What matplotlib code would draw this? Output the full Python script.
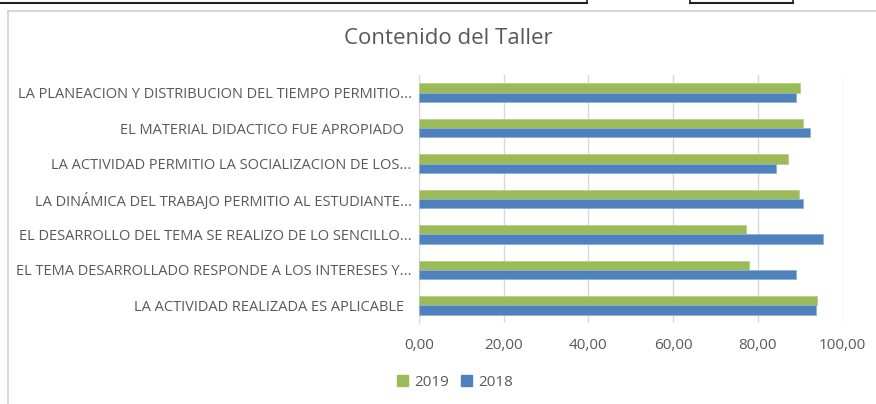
import matplotlib
matplotlib.use("Agg")
import matplotlib.pyplot as plt
from matplotlib.lines import Line2D
from matplotlib.patches import Rectangle
import numpy as np

plt.rcParams['font.family'] = ['Open Sans', 'DejaVu Sans']

categories = [
    "LA ACTIVIDAD REALIZADA ES APLICABLE\u00a0\u00a0",
    "EL TEMA DESARROLLADO RESPONDE A LOS INTERESES Y...",
    "EL DESARROLLO DEL TEMA SE REALIZO DE LO SENCILLO...",
    "LA DINÁMICA DEL TRABAJO PERMITIO AL ESTUDIANTE...",
    "LA ACTIVIDAD PERMITIO LA SOCIALIZACION DE LOS...",
    "EL MATERIAL DIDACTICO FUE APROPIADO\u00a0\u00a0",
    "LA PLANEACION Y DISTRIBUCION DEL TIEMPO PERMITIO...",
]
values_2019 = [94.0, 78.0, 77.2, 89.6, 87.0, 90.6, 90.0]
values_2018 = [93.8, 89.1, 95.4, 90.6, 84.3, 92.3, 89.1]
xticks = [0, 20, 40, 60, 80, 100]
xtick_labels = ["0,00", "20,00", "40,00", "60,00", "80,00", "100,00"]

green = "#9BBB59"
blue = "#4F81BD"
text_color = "#595959"

fig = plt.figure(figsize=(8.76, 4.04), dpi=100)
ax = fig.add_axes([418.7 / 876, 1 - 323 / 404, (842.7 - 418.7) / 876, (323 - 75) / 404])

y = np.arange(len(categories))
h = 0.263
ax.barh(y + h / 2, values_2019, height=h, color=green, edgecolor="#b5cf85", linewidth=0.6, label="2019", zorder=3)
ax.barh(y - h / 2, values_2018, height=h, color=blue, edgecolor="#8fb0d8", linewidth=0.6, label="2018", zorder=3)

ax.set_xlim(0, 100)
ax.set_ylim(-0.5, len(categories) - 0.5)
ax.set_xticks(xticks)
ax.set_xticklabels(xtick_labels, fontsize=11, color=text_color)
ax.set_yticks(y)
ax.set_yticklabels(categories, fontsize=10.5, color=text_color)
ax.tick_params(axis="both", length=0)
ax.tick_params(axis="x", pad=11)
ax.tick_params(axis="y", pad=5)
ax.grid(axis="x", color="#d9d9d9", linewidth=1, zorder=0)
for s in ["top", "right", "bottom"]:
    ax.spines[s].set_visible(False)
ax.spines["left"].set_color("#d9d9d9")
ax.spines["left"].set_zorder(1)

fig.text(448 / 876, 1 - 38 / 404, "Contenido del Taller", ha="center", va="center",
         fontsize=16, color=text_color)

handles = [Rectangle((0, 0), 1, 1, color=green), Rectangle((0, 0), 1, 1, color=blue)]
fig.legend(handles, ["2019", "2018"], loc="center", bbox_to_anchor=(455 / 876, 1 - 382 / 404),
           ncol=2, frameon=False, fontsize=11, handlelength=0.7, handleheight=0.7,
           handletextpad=0.4, columnspacing=0.8, labelcolor=text_color)

# chart border and spreadsheet lines
fig.add_artist(Line2D([8 / 876, 8 / 876], [0, 1 - 11 / 404], color="#d0d0d0", lw=1.2, transform=fig.transFigure))
fig.add_artist(Line2D([8 / 876, 1], [1 - 11 / 404, 1 - 11 / 404], color="#d0d0d0", lw=1.2, transform=fig.transFigure))
fig.add_artist(Line2D([0, 587 / 876], [1 - 3 / 404, 1 - 3 / 404], color="#222222", lw=1.5, transform=fig.transFigure))
fig.add_artist(Line2D([587 / 876, 587 / 876], [1 - 3 / 404, 1], color="#222222", lw=1.2, transform=fig.transFigure))
fig.add_artist(Line2D([690 / 876, 793 / 876], [1 - 3 / 404, 1 - 3 / 404], color="#222222", lw=1.5, transform=fig.transFigure))
fig.add_artist(Line2D([690 / 876, 690 / 876], [1 - 3 / 404, 1], color="#222222", lw=1.2, transform=fig.transFigure))
fig.add_artist(Line2D([793 / 876, 793 / 876], [1 - 3 / 404, 1], color="#222222", lw=1.2, transform=fig.transFigure))

fig.savefig("out.png", dpi=100)
